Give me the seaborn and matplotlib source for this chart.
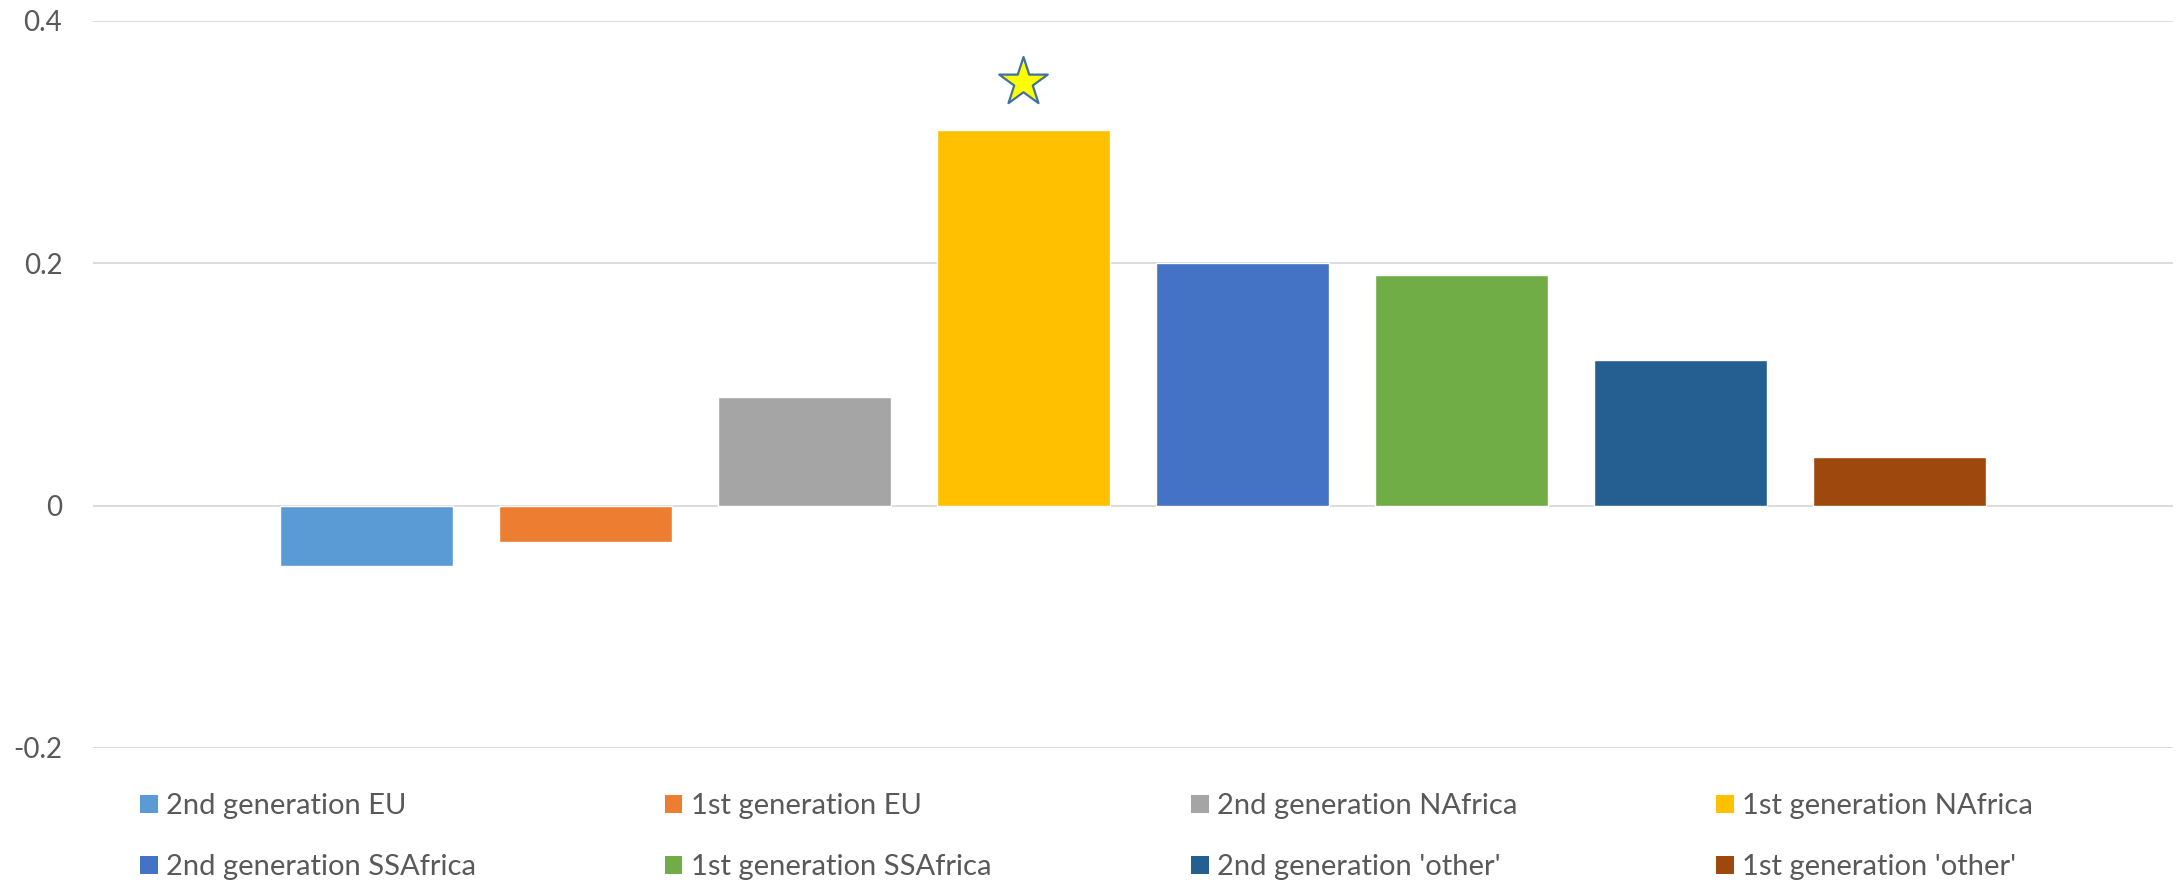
import matplotlib
matplotlib.use("Agg")
import matplotlib.pyplot as plt
from matplotlib.patches import Patch
import seaborn as sns

categories = [
    "2nd generation EU", "1st generation EU",
    "2nd generation NAfrica", "1st generation NAfrica",
    "2nd generation SSAfrica", "1st generation SSAfrica",
    "2nd generation 'other'", "1st generation 'other'",
]
values = [-0.05, -0.03, 0.09, 0.31, 0.20, 0.19, 0.12, 0.04]
colors = ["#5B9BD5", "#ED7D31", "#A5A5A5", "#FFC000",
          "#4472C4", "#70AD47", "#255E91", "#9E480E"]
yticks = [-0.2, 0, 0.2, 0.4]
ytick_labels = ["-0.2", "0", "0.2", "0.4"]
star_category = 3
star_y = 0.35

sns.set_theme(style="white")
plt.rcParams["font.family"] = ["Lato", "DejaVu Sans"]
text_color = "#595959"
grid_color = "#D9D9D9"

fig = plt.figure(figsize=(21.81, 8.86), dpi=100)
ax = fig.add_axes([0.0426, 0.1558, 0.9537, 0.8205])

sns.barplot(x=list(range(len(categories))), y=values,
            hue=list(range(len(categories))), palette=colors,
            width=0.79, dodge=False, legend=False, ax=ax,
            saturation=1, native_scale=True, zorder=2)

ax.scatter([star_category], [star_y], marker="*", s=1350,
           facecolor="#FFFF00", edgecolor="#41719C", linewidth=1.6, zorder=3)

ax.set_xlim(-1.25, 8.25)
ax.set_ylim(-0.2, 0.4)
ax.set_yticks(yticks)
ax.set_yticklabels(ytick_labels)
ax.set_xticks([])
ax.set_xlabel("")
ax.set_ylabel("")
for y in yticks:
    ax.axhline(y, color=grid_color, linewidth=1.3, zorder=1)
for s in ax.spines.values():
    s.set_visible(False)
ax.tick_params(axis="y", length=0, pad=22, labelsize=20, labelcolor=text_color)

# Legend laid out as four equal-width columns of two entries each
col_x = [0.0642, 0.3049, 0.5461, 0.7868]
for j, x in enumerate(col_x):
    idx = [j, j + 4]
    handles = [Patch(facecolor=colors[i], edgecolor="none") for i in idx]
    labels = [categories[i] for i in idx]
    fig.legend(handles, labels, loc="upper left",
               bbox_to_anchor=(x, 0.1045), frameon=False,
               fontsize=21, labelcolor=text_color,
               handlelength=0.6, handleheight=0.6, handletextpad=0.3,
               labelspacing=1.2, borderpad=0, borderaxespad=0)

fig.savefig("out.png", dpi=100, facecolor="white")
